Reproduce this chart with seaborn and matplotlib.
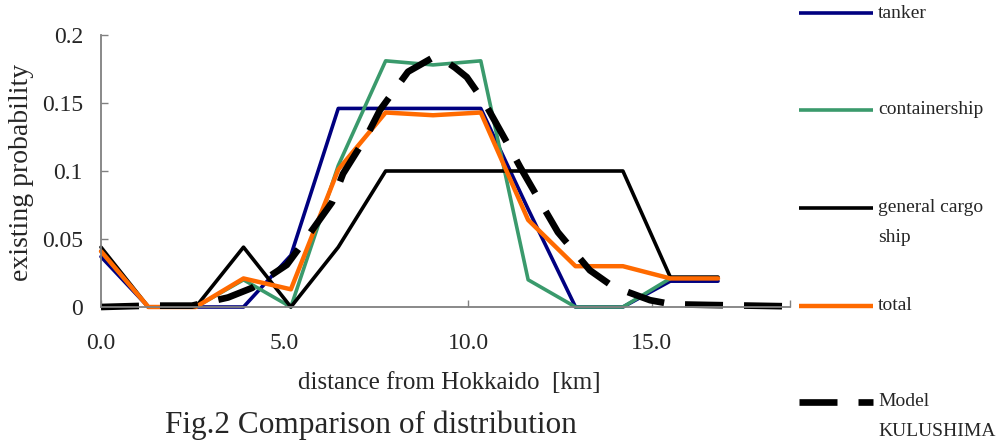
import numpy as np
import pandas as pd
import matplotlib
matplotlib.use("Agg")
import matplotlib.pyplot as plt
from matplotlib.lines import Line2D
import seaborn as sns

# ---------------- data ----------------
distance_km = [0.0, 1.29, 2.58, 3.88, 5.17, 6.46, 7.75, 9.04, 10.34, 11.63, 12.92, 14.21, 15.50, 16.80]
tanker = [0.037, 0.0, 0.0, 0.0, 0.038, 0.146, 0.146, 0.146, 0.146, 0.072, 0.0, 0.0, 0.019, 0.019]
containership = [0.041, 0.0, 0.0, 0.020, 0.0, 0.104, 0.181, 0.178, 0.181, 0.020, 0.0, 0.0, 0.021, np.nan]
general_cargo = [0.044, 0.0, 0.0, 0.044, 0.0, 0.044, 0.100, 0.100, 0.100, 0.100, 0.100, 0.100, 0.022, 0.022]
total = [0.041, 0.0, 0.0, 0.021, 0.013, 0.101, 0.143, 0.141, 0.143, 0.064, 0.030, 0.030, 0.021, 0.021]

model_km = [0.0, 1.33, 2.48, 3.46, 4.11, 5.06, 5.55, 6.29, 6.59, 7.24, 7.60, 8.36, 9.01, 9.26,
            9.64, 9.96, 10.45, 11.05, 11.41, 12.03, 12.44, 13.31, 13.94, 14.95, 15.55, 16.53,
            17.67, 18.76]
model_kulushima = [0.0, 0.001, 0.001, 0.007, 0.014, 0.031, 0.049, 0.077, 0.098, 0.126, 0.145,
                   0.173, 0.183, 0.183, 0.176, 0.169, 0.150, 0.121, 0.103, 0.074, 0.055, 0.027,
                   0.015, 0.005, 0.002, 0.0015, 0.001, 0.0005]

series_labels = ["tanker", "containership", "general cargo\nship", "total", "Model\nKULUSHIMA"]
x_ticks = [0, 5, 10, 15]
x_tick_labels = ["0.0", "5.0", "10.0", "15.0"]
y_ticks = [0, 0.05, 0.1, 0.15, 0.2]
y_tick_labels = ["0", "0.05", "0.1", "0.15", "0.2"]

# ---------------- style ----------------
sns.set_style("white")
plt.rcParams["font.family"] = ["Liberation Serif", "DejaVu Serif"]

colors = ["#000080", "#3A9A6C", "#000000", "#FF6A00", "#000000"]
widths = [2.6, 2.6, 2.6, 3.2, 4.8]
dash = (0, (5.7, 3.15))

fig = plt.figure(figsize=(9.98, 4.43), dpi=100)
ax = fig.add_axes([0.1012, 0.307, 0.6904, 0.614])

ys = [tanker, containership, general_cargo, total]
for y, c, w in zip(ys, colors[:4], widths[:4]):
    df = pd.DataFrame({"x": distance_km, "y": y}).dropna()
    sns.lineplot(data=df, x="x", y="y", ax=ax, color=c, linewidth=w,
                 errorbar=None, clip_on=False, sort=False)

dfm = pd.DataFrame({"x": model_km, "y": model_kulushima})
sns.lineplot(data=dfm, x="x", y="y", ax=ax, color="black", linewidth=widths[4],
             errorbar=None, clip_on=False, sort=False)
ml = ax.lines[-1]
ml.set_linestyle(dash)
ml.set_dash_capstyle("butt")

ax.set_xlim(0, 18.76)
ax.set_ylim(0, 0.2)
ax.set_xticks(x_ticks)
ax.set_xticklabels(x_tick_labels, fontsize=17)
ax.set_xticks([18.76], minor=True)
ax.set_yticks(y_ticks)
ax.set_yticklabels(y_tick_labels, fontsize=17)
ax.tick_params(axis="x", which="both", direction="in", length=5, width=1.0,
               color="#808080", bottom=True, pad=19)
ax.tick_params(axis="y", direction="in", length=5, width=1.0,
               color="#808080", left=True, pad=13)

for s in ["top", "right"]:
    ax.spines[s].set_visible(False)
for s in ["left", "bottom"]:
    ax.spines[s].set_color("#808080")
    ax.spines[s].set_linewidth(1.3)

ax.set_xlabel("distance from Hokkaido  [km]", fontsize=18)
ax.xaxis.set_label_coords(0.505, -0.279)
ax.xaxis.label.set_va("center")
ax.set_ylabel("existing probability", fontsize=20)
ax.yaxis.set_label_coords(-0.115, 0.496)
ax.yaxis.label.set_va("center")

fig.text(371 / 998, 1 - 425 / 443, "Fig.2 Comparison of distribution",
         ha="center", va="center", fontsize=22.5)

# ---------------- legend (manual, lines aligned to first text line) ----------------
W, H = 998.0, 443.0
leg_y = [13, 110, 208, 306, 402]
for lab, yy, c, w, k in zip(series_labels, leg_y, colors, widths, range(5)):
    yf = 1 - yy / H
    ln = Line2D([799 / W, 873 / W], [yf, yf], transform=fig.transFigure,
                color=c, linewidth=w, solid_capstyle="butt")
    if k == 4:
        ln.set_linestyle(dash)
        ln.set_dash_capstyle("butt")
    fig.add_artist(ln)
    first, *rest = lab.split("\n")
    fig.text(878 / W, yf, first, ha="left", va="center", fontsize=14)
    for j, r in enumerate(rest):
        fig.text(878 / W, 1 - (yy + 29 * (j + 1)) / H, r, ha="left", va="center", fontsize=14)

fig.savefig("out.png", dpi=100)
